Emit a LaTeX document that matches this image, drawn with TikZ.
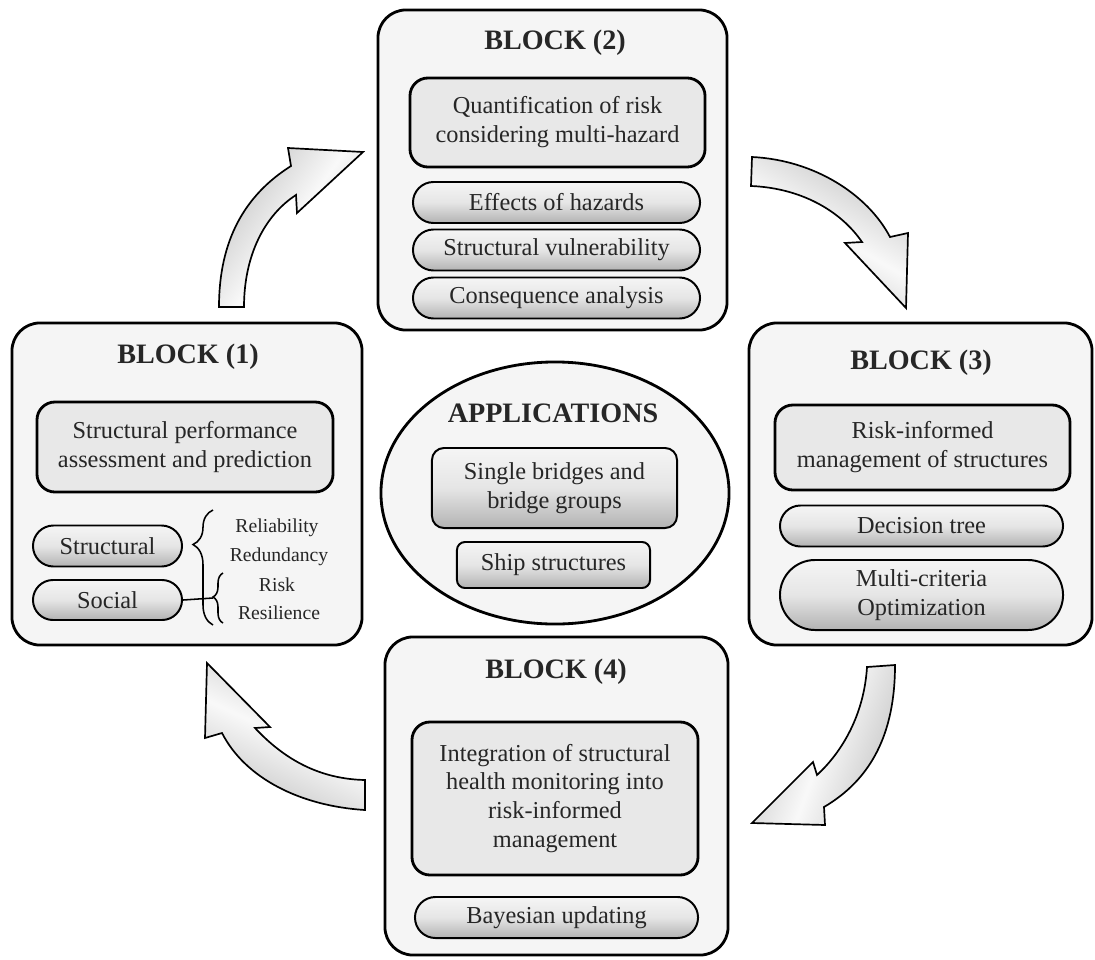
\documentclass[tikz,border=0pt]{standalone}
\usepackage{fontspec}
\setmainfont{Liberation Serif}
\usetikzlibrary{shapes.geometric,shapes.misc,decorations.pathreplacing}
\newcommand{\bxfont}{\fontsize{17.3}{20.6}\selectfont}
\newcommand{\ttlfont}{\fontsize{20}{24}\selectfont\bfseries}
\newcommand{\smfont}{\fontsize{14}{17}\selectfont}
\tikzset{
    outerbox/.style = {draw, line width=2pt, rounded corners=0.7cm, fill=gray!8, inner sep=0pt},
    innerbox/.style = {draw, line width=2pt, rounded corners=0.45cm, fill=gray!18,
        align=center, text=black!85, font=\bxfont, inner sep=0pt},
    pill/.style = {draw, line width=1.4pt, rounded rectangle, top color=gray!8, bottom color=gray!60,
        middle color=gray!20, align=center, text=black!85, font=\bxfont, inner sep=0pt,
        minimum height=1.025cm},
    shadebox/.style = {draw, line width=1.4pt, top color=gray!8, bottom color=gray!60,
        middle color=gray!20, align=center, text=black!85, font=\bxfont, inner sep=0pt},
    title/.style = {font=\ttlfont, text=black!85},
    side/.style = {font=\smfont, text=black!85},
    bigarrow/.style = {draw, line width=1.2pt, line join=miter, top color=gray!45,
        bottom color=gray!45, middle color=gray!5},
    bracestyle/.style = {decorate, line width=1.1pt}
}
\begin{document}
\begin{tikzpicture}[x=0.025cm, y=-0.025cm]
        \useasboundingbox (0,0) rectangle (1095,959);
        % block 1
        \node [outerbox, minimum width=8.75cm, minimum height=8.05cm] (b1) at (187,484) {};
        \node [title] (b1t) at (188,357) {BLOCK (1)};
        \node [innerbox, minimum width=7.4cm, minimum height=2.25cm] (b1m) at (185,447) {Structural performance\\assessment and prediction};
        \node [pill, minimum width=3.725cm] (struc) at (107.5,546) {Structural};
        \node [pill, minimum width=3.725cm, minimum height=1cm] (social) at (107.5,600) {Social};
        \draw [bracestyle, decoration={brace, amplitude=0.5cm, aspect=0.7}] (213,625) -- (213,510);
        \draw [bracestyle, decoration={brace, amplitude=0.25cm, aspect=0.52}] (223,623) -- (223,573);
        \coordinate (soctip) at (213,598);
        \draw [line width=1.1pt] (social.east) -- (soctip);
        \node [side] (rel) at (277,528) {Reliability};
        \node [side] (red) at (279,557) {Redundancy};
        \node [side] (risk) at (277,585) {Risk};
        \node [side] (res) at (279,613) {Resilience};
        % block 2
        \node [outerbox, minimum width=8.725cm, minimum height=8cm] (b2) at (552.5,170) {};
        \node [title] (b2t) at (555,43) {BLOCK (2)};
        \node [innerbox, minimum width=7.375cm, minimum height=2.225cm] (b2m) at (557.5,122.5) {Quantification of risk\\considering multi-hazard};
        \node [pill, minimum width=7.175cm] (haz) at (556.5,202.5) {Effects of hazards};
        \node [pill, minimum width=7.175cm] (vul) at (556.5,250) {Structural vulnerability};
        \node [pill, minimum width=7.175cm] (cons) at (556.5,298) {Consequence analysis};
        % block 3
        \node [outerbox, minimum width=8.575cm, minimum height=8.05cm] (b3) at (920.5,484) {};
        \node [title] (b3t) at (921,363) {BLOCK (3)};
        \node [innerbox, minimum width=7.375cm, minimum height=2.125cm] (b3m) at (922.5,447.5) {Risk-informed\\management of structures};
        \node [pill, minimum width=7.075cm] (dec) at (921.5,526) {Decision tree};
        \node [pill, minimum width=7.075cm, minimum height=1.75cm] (opt) at (921.5,595) {Multi-criteria\\Optimization};
        % block 4
        \node [outerbox, minimum width=8.575cm, minimum height=7.95cm] (b4) at (556.5,796) {};
        \node [title] (b4t) at (556,672) {BLOCK (4)};
        \node [innerbox, minimum width=7.15cm, minimum height=3.825cm] (b4m) at (555,798.5) {Integration of structural\\health monitoring into\\risk-informed\\management};
        \node [pill, minimum width=7.075cm] (bay) at (556.5,917.5) {Bayesian updating};
        % applications
        \node [ellipse, draw, line width=2pt, fill=gray!8, minimum width=8.7cm, minimum height=6.55cm, inner sep=0pt] (app) at (555,493) {};
        \node [title] (appt) at (553,413) {APPLICATIONS};
        \node [shadebox, rounded corners=0.3cm, minimum width=6.125cm, minimum height=2cm] (bridge) at (554.5,488) {Single bridges and\\bridge groups};
        \node [shadebox, rounded corners=0.2cm, minimum width=4.825cm, minimum height=1.15cm] (ship) at (553.5,565) {Ship structures};
        % arrows
        \path [bigarrow, shading angle=55] (219,307) .. controls (219,240) and (245,195) .. (291,166) -- (288,148) -- (363,152) -- (297,213) -- (296,195) .. controls (265,215) and (244,255) .. (244,307) -- cycle;
        \path [bigarrow, shading angle=-30] (752,157) .. controls (815,160) and (868,195) .. (890,237) -- (908,233) -- (906,308) -- (845,243) -- (862,242) .. controls (840,210) and (800,188) .. (751,186) -- cycle;
        \path [bigarrow, shading angle=70] (895,665) .. controls (895,735) and (870,780) .. (824,807) -- (825,825) -- (752,823) -- (813,762) -- (817,775) .. controls (842,752) and (864,715) .. (867,667) -- cycle;
        \path [bigarrow, shading angle=-25] (365,810) .. controls (300,806) and (245,778) .. (222,733) -- (205,738) -- (207,663) -- (270,727) -- (255,728) .. controls (285,760) and (320,779) .. (365,780) -- cycle;
    \end{tikzpicture}
\end{document}
